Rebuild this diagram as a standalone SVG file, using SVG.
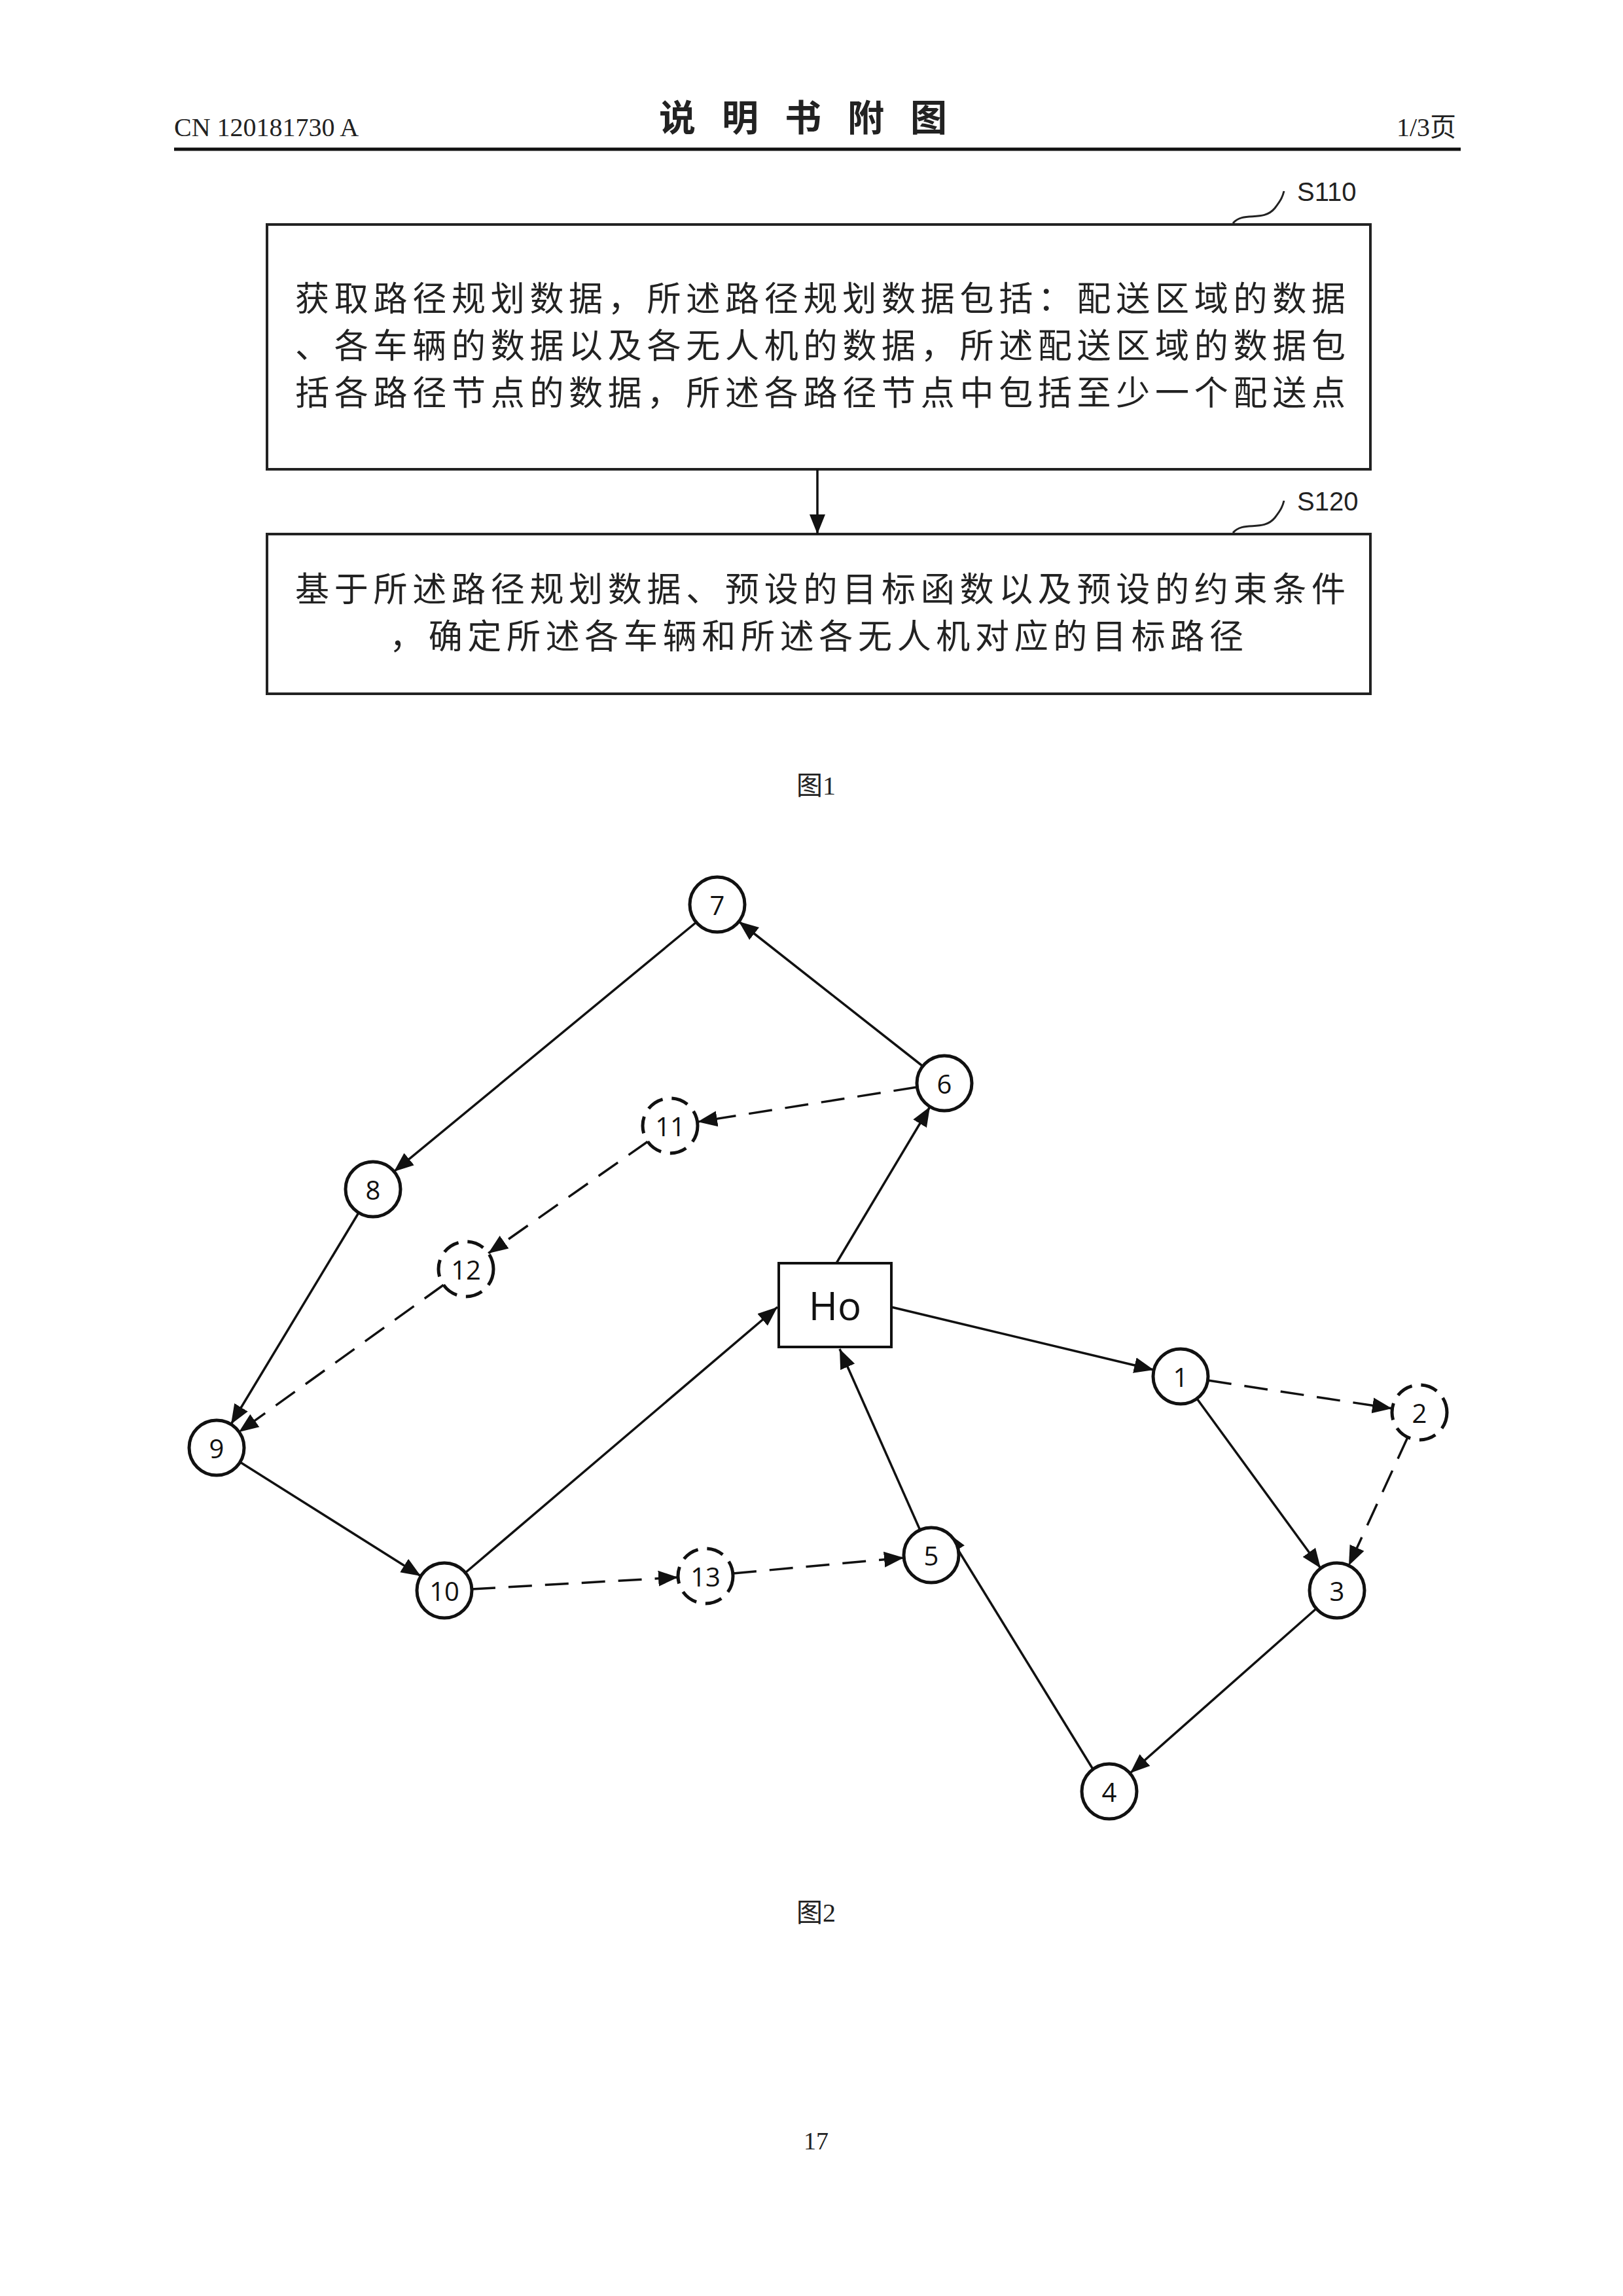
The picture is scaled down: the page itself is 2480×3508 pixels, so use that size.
<svg xmlns="http://www.w3.org/2000/svg" width="2480" height="3508" viewBox="0 0 2480 3508">
<style>
.hdr{font-family:"Liberation Serif","Noto Sans CJK SC",serif;fill:#222}
.cj{font-family:"Noto Sans CJK SC",sans-serif;font-size:52px;fill:#222}
.box{fill:#fff;stroke:#222;stroke-width:4}
.nd{fill:#fff;stroke:#111;stroke-width:5}
.dn{fill:#fff;stroke:#111;stroke-width:5;stroke-dasharray:26 14}
.nt{font-family:"Open Sans","Liberation Sans",sans-serif;font-size:40px;fill:#111;text-anchor:middle;dominant-baseline:central}
.e{stroke:#111;stroke-width:3.5;fill:none;marker-end:url(#ah)}
.d{stroke:#111;stroke-width:3.5;fill:none;stroke-dasharray:36 20;marker-end:url(#ah)}
.lbl{font-family:"Liberation Sans",sans-serif;font-size:40px;fill:#222}
</style>
<defs>
<marker id="ah" viewBox="0 0 10 10" refX="10" refY="5" markerWidth="30" markerHeight="30" markerUnits="userSpaceOnUse" orient="auto"><path d="M0,1 L10,5 L0,9 z" fill="#111"/></marker>
</defs>
<rect width="2480" height="3508" fill="#fff"/>
<g id="header">
<text class="hdr" x="266" y="208" font-size="40">CN 120181730 A</text>
<text class="hdr" x="1247" y="200" font-size="56" text-anchor="middle" font-weight="bold" letter-spacing="40">说明书附图</text>
<text class="hdr" x="2225" y="208" font-size="40" text-anchor="end">1/3页</text>
<line x1="266" y1="228" x2="2232" y2="228" stroke="#111" stroke-width="5"/>
</g>
<g id="S110">
<rect class="box" x="408" y="343" width="1686" height="374"/>
<text class="cj" x="451" y="475" textLength="1605">获取路径规划数据，所述路径规划数据包括：配送区域的数据</text>
<text class="cj" x="451" y="547" textLength="1605">、各车辆的数据以及各无人机的数据，所述配送区域的数据包</text>
<text class="cj" x="451" y="619" textLength="1605">括各路径节点的数据，所述各路径节点中包括至少一个配送点</text>
<path d="M1884,341 C1900,322 1930,340 1948,318 C1958,305 1960,300 1962,292" fill="none" stroke="#222" stroke-width="3"/>
<text class="lbl" x="1982" y="307">S110</text>
</g>
<g id="S120">
<rect class="box" x="408" y="816" width="1686" height="244"/>
<text class="cj" x="451" y="919" textLength="1605">基于所述路径规划数据、预设的目标函数以及预设的约束条件</text>
<text class="cj" x="595" y="991" textLength="1305">，确定所述各车辆和所述各无人机对应的目标路径</text>
<path d="M1884,814 C1900,795 1930,813 1948,791 C1958,778 1960,773 1962,765" fill="none" stroke="#222" stroke-width="3"/>
<text class="lbl" x="1982" y="780">S120</text>
</g>
<g id="flow-conn"><line class="e" x1="1249" y1="717" x2="1249" y2="816"/></g>
<text class="hdr" x="1247" y="1214" font-size="40" text-anchor="middle">图1</text>
<g id="connectors">
<line class="e" x1="1278" y1="1930" x2="1421" y2="1691"/>
<line class="e" x1="1410" y1="1629" x2="1129" y2="1408"/>
<line class="e" x1="1064" y1="1409" x2="602" y2="1790"/>
<line class="e" x1="548" y1="1853" x2="353" y2="2176"/>
<line class="e" x1="367" y1="2234" x2="643" y2="2408"/>
<line class="e" x1="711" y1="2403" x2="1188" y2="1997"/>
<line class="e" x1="1362" y1="1997" x2="1763" y2="2093"/>
<line class="e" x1="1829" y1="2137" x2="2018" y2="2396"/>
<line class="e" x1="2011" y1="2458" x2="1727" y2="2709"/>
<line class="e" x1="1670" y1="2703" x2="1448" y2="2342"/>
<line class="e" x1="1406" y1="2338" x2="1283" y2="2061"/>
<line class="d" x1="1401" y1="1661" x2="1066" y2="1714"/>
<line class="d" x1="990" y1="1744" x2="746" y2="1915"/>
<line class="d" x1="678" y1="1963" x2="365" y2="2188"/>
<line class="d" x1="1846" y1="2109" x2="2127" y2="2152"/>
<line class="d" x1="2151" y1="2196" x2="2061" y2="2392"/>
<line class="d" x1="721" y1="2428" x2="1036" y2="2410"/>
<line class="d" x1="1120" y1="2404" x2="1381" y2="2380"/>
</g>
<g id="Ho"><rect x="1190" y="1930" width="172" height="128" fill="#fff" stroke="#111" stroke-width="4"/><text class="nt" x="1276" y="1994" style="font-size:60px">Ho</text></g>
<g id="n1"><circle class="nd" cx="1804" cy="2103" r="42"/><text class="nt" x="1804" y="2103">1</text></g>
<g id="n2"><circle class="dn" cx="2169" cy="2158" r="42"/><text class="nt" x="2169" y="2158">2</text></g>
<g id="n3"><circle class="nd" cx="2043" cy="2430" r="42"/><text class="nt" x="2043" y="2430">3</text></g>
<g id="n4"><circle class="nd" cx="1695" cy="2737" r="42"/><text class="nt" x="1695" y="2737">4</text></g>
<g id="n5"><circle class="nd" cx="1423" cy="2376" r="42"/><text class="nt" x="1423" y="2376">5</text></g>
<g id="n6"><circle class="nd" cx="1443" cy="1655" r="42"/><text class="nt" x="1443" y="1655">6</text></g>
<g id="n7"><circle class="nd" cx="1096" cy="1382" r="42"/><text class="nt" x="1096" y="1382">7</text></g>
<g id="n8"><circle class="nd" cx="570" cy="1817" r="42"/><text class="nt" x="570" y="1817">8</text></g>
<g id="n9"><circle class="nd" cx="331" cy="2212" r="42"/><text class="nt" x="331" y="2212">9</text></g>
<g id="n10"><circle class="nd" cx="679" cy="2430" r="42"/><text class="nt" x="679" y="2430">10</text></g>
<g id="n11"><circle class="dn" cx="1024" cy="1720" r="42"/><text class="nt" x="1024" y="1720">11</text></g>
<g id="n12"><circle class="dn" cx="712" cy="1939" r="42"/><text class="nt" x="712" y="1939">12</text></g>
<g id="n13"><circle class="dn" cx="1078" cy="2408" r="42"/><text class="nt" x="1078" y="2408">13</text></g>
<text class="hdr" x="1247" y="2936" font-size="40" text-anchor="middle">图2</text>
<text class="hdr" x="1247" y="3284" font-size="38" text-anchor="middle">17</text>
</svg>
